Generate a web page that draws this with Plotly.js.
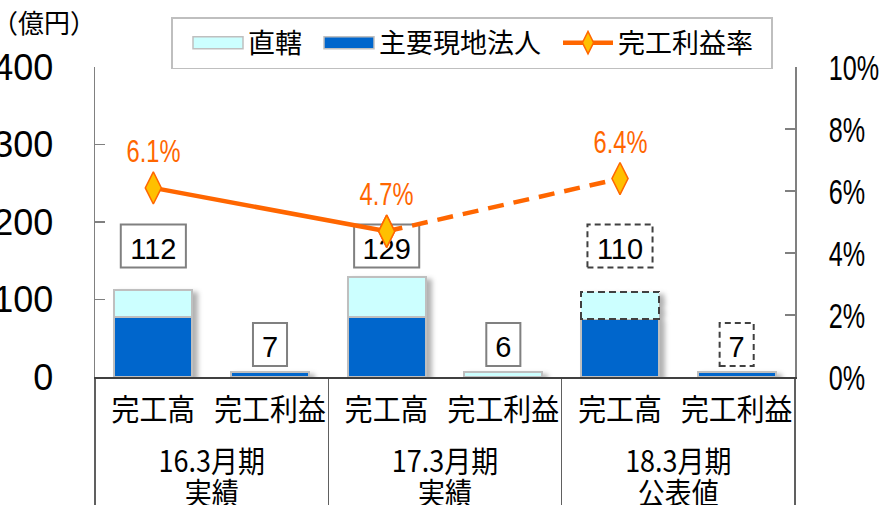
<!DOCTYPE html>
<html><head><meta charset="utf-8">
<script src="https://cdn.plot.ly/plotly-3.0.1.min.js"></script>
<style>html,body{margin:0;padding:0;background:#fff}#chart{width:879px;height:505px}</style>
</head><body><div id="chart"></div>
<script>
// ---- data ----
const periods = ["16.3月期<br>実績", "17.3月期<br>実績", "18.3月期<br>公表値"];
const metrics = ["完工高", "完工利益"];
const salesLocal = [77, 78, 75];      // 主要現地法人
const salesDirect = [35, 51, 35];     // 直轄
const salesTotal = [112, 129, 110];
const profitLocal = [7, 0.5, 7];
const profitDirect = [null, 5.5, null];
const profitTotal = [7, 6, 7];
const marginRate = [0.061, 0.047, 0.064]; // 完工利益率
const forecast = [false, false, true];

// ---- build ----
const outer = [], inner = [], localVals = [], directVals = [], totals = [], isFc = [];
periods.forEach((p, i) => {
  outer.push(p, p); inner.push(metrics[0], metrics[1]);
  localVals.push(salesLocal[i], profitLocal[i]);
  directVals.push(salesDirect[i], profitDirect[i]);
  totals.push(salesTotal[i], profitTotal[i]);
  isFc.push(forecast[i], forecast[i]);
});

const CJK = '"Noto Sans CJK JP", "Noto Sans", sans-serif';
const LAT = '"Liberation Sans", Arial, sans-serif';
const ORANGE = '#FF6600';
const barLine = {color: '#BFBFBF', width: 2};

const traces = [
  {type: 'bar', name: '主要現地法人', x: [outer, inner], y: localVals, width: 0.67,
   marker: {color: '#0066CC', line: barLine}, legendrank: 2, hoverinfo: 'skip'},
  {type: 'bar', name: '直轄', x: [outer, inner], y: directVals, width: 0.67,
   marker: {color: '#CCFFFF', line: barLine}, legendrank: 1, hoverinfo: 'skip'},
  {type: 'scatter', mode: 'lines+markers', name: '完工利益率', yaxis: 'y2',
   x: [periods.slice(0, 2), [metrics[0], metrics[0]]], y: marginRate.slice(0, 2),
   line: {color: ORANGE, width: 4.5},
   marker: {symbol: 'diamond-tall', size: 23, color: '#FFC000', line: {color: ORANGE, width: 1.5}},
   legendrank: 3, hoverinfo: 'skip'},
  {type: 'scatter', mode: 'lines+markers', name: '完工利益率', yaxis: 'y2', showlegend: false,
   x: [periods.slice(1), [metrics[0], metrics[0]]], y: marginRate.slice(1),
   line: {color: ORANGE, width: 4.5, dash: '16px,10px'},
   marker: {symbol: 'diamond-tall', size: 23, color: '#FFC000', line: {color: ORANGE, width: 1.5}},
   hoverinfo: 'skip'}
];

// value boxes drawn as labelled shapes beneath the traces
const shapes = [];
totals.forEach((v, k) => {
  const isSales = k % 2 === 0;
  const half = String(v).length > 1 ? 0.279 : 0.146;
  const yc = isSales ? 0.4226 : 0.105, hh = 0.0694;
  shapes.push({
    type: 'rect', layer: 'below',
    xref: 'x', x0: k - half, x1: k + half,
    yref: 'paper', y0: yc - hh, y1: yc + hh,
    fillcolor: '#fff',
    line: isFc[k] ? {color: '#404040', width: 2, dash: '6px,4px'} : {color: '#808080', width: 2},
    label: {text: String(v), textposition: 'middle center', font: {family: LAT, size: 29, color: '#000'}}
  });
});

const annotations = [];
marginRate.forEach((r, i) => {
  annotations.push({
    x: 2 * i, xref: 'x', y: r, yref: 'y2', yshift: 37, showarrow: false,
    text: (r * 100).toFixed(1) + '%', font: {family: LAT, size: 32, color: ORANGE}, name: 'rate'
  });
});
annotations.push({
  x: -0.15, xref: 'paper', xanchor: 'left', y: 1.148, yref: 'paper', yanchor: 'middle',
  text: '（億円）', showarrow: false, font: {family: CJK, size: 26, color: '#000'}
});

const layout = {
  width: 879, height: 505,
  margin: {l: 95, r: 84, t: 67, b: 128, autoexpand: false},
  paper_bgcolor: '#fff', plot_bgcolor: '#fff',
  barmode: 'stack', showlegend: true,
  legend: {orientation: 'h', x: 0.1086, y: 1.161, xanchor: 'left', yanchor: 'top',
           bgcolor: '#fff', bordercolor: '#BFBFBF', borderwidth: 1.5,
           font: {family: CJK, size: 27, color: '#000'}, itemwidth: 50, traceorder: 'normal'},
  xaxis: {type: 'multicategory', range: [-0.5, 5.5], showline: true, linecolor: '#404040', linewidth: 1.5,
          ticks: '', tickangle: 0, showgrid: false, zeroline: false, showdividers: true,
          dividercolor: '#606060', dividerwidth: 1.5,
          tickfont: {family: CJK, size: 30, color: '#000'}},
  yaxis: {range: [0, 400], dtick: 100, ticks: 'inside', ticklen: 10, tickcolor: '#808080', tickwidth: 1.5,
          showline: true, linecolor: '#808080', linewidth: 1.5, showgrid: false, zeroline: false,
          ticklabelstandoff: 33, tickfont: {family: LAT, size: 36, color: '#000'}},
  yaxis2: {overlaying: 'y', side: 'right', range: [0, 0.1], dtick: 0.02, tickformat: '.0%',
           ticks: 'inside', ticklen: 10, tickcolor: '#808080', tickwidth: 1.5,
           showline: true, linecolor: '#808080', linewidth: 1.5, showgrid: false, zeroline: false,
           ticklabelstandoff: 25, tickfont: {family: LAT, size: 36, color: '#000'}},
  shapes: shapes,
  annotations: annotations
};

function condense(el, s, dy) {
  const x = parseFloat(el.getAttribute('x')) || 0;
  const tr = el.getAttribute('transform') || '';
  el.setAttribute('transform', 'translate(0,' + (dy || 0) + ') ' + tr +
    ' translate(' + x + ',0) scale(' + s + ',1) translate(' + (-x) + ',0)');
}

Plotly.newPlot('chart', traces, layout, {staticPlot: true}).then(gd => {
  document.querySelectorAll('.xtick text').forEach(t => condense(t, 0.93, 6));
  document.querySelectorAll('.xtick2 text').forEach(t => {
    t.querySelectorAll('tspan.line').forEach((ts, i) => { if (i > 0) ts.setAttribute('dy', (i * 1.04) + 'em'); });
    condense(t, 0.9, 12);
  });
  document.querySelectorAll('.y2tick text').forEach(t => condense(t, 0.7));
  document.querySelectorAll('g.annotation').forEach(g => {
    const i = +g.getAttribute('data-index');
    const a = gd.layout.annotations[i];
    if (a && a.name === 'rate') g.querySelectorAll('text').forEach(t => condense(t, 0.74));
  });
  // dashed outline on forecast 直轄 segment
  const barTraces = document.querySelectorAll('.barlayer .trace');
  if (barTraces[1]) {
    barTraces[1].querySelectorAll('g.point').forEach(p => {
      const d = p.__data__;
      if (d && isFc[d.i]) {
        const path = p.querySelector('path');
        if (path) { path.style.strokeDasharray = '7,4'; path.style.stroke = '#404040'; }
      }
    });
  }
  // legend: wide swatches and spacing
  document.querySelectorAll('clipPath[id^="legend"] rect').forEach(r => r.setAttribute('width', 800));
  const barNames = [traces[0].name, traces[1].name];
  const items = Array.from(document.querySelectorAll('.legend g.traces'));
  let targetLeft = 248;
  let lastRight = 0;
  items.forEach(g => {
    const txt = g.querySelector('text.legendtext');
    if (!txt) return;
    if (barNames.indexOf(txt.textContent) >= 0) {
      g.querySelectorAll('.legendpoints path').forEach(p => {
        p.setAttribute('d', 'M25,6H-25V-6H25Z');
        p.style.strokeWidth = '1.5px';
        p.style.stroke = '#BFBFBF';
      });
    }
    const rc = txt.getBoundingClientRect();
    const delta = targetLeft - rc.left;
    const m = /translate\(\s*([-\d.e]+)[ ,]+([-\d.e]+)\s*\)/.exec(g.getAttribute('transform') || '');
    const tx = m ? parseFloat(m[1]) : 0, ty = m ? parseFloat(m[2]) : 0;
    g.setAttribute('transform', 'translate(' + (tx + delta) + ',' + ty + ')');
    lastRight = targetLeft + rc.width;
    targetLeft = lastRight + 77;
  });
  const bg = document.querySelector('.legend rect.bg');
  if (bg) {
    const bl = bg.getBoundingClientRect().left;
    bg.setAttribute('width', (lastRight + 19 - bl));
  }
  // bar shadow
  const NS = 'http://www.w3.org/2000/svg';
  const svg = document.querySelector('#chart .main-svg');
  let defs = svg.querySelector('defs');
  const f = document.createElementNS(NS, 'filter');
  f.setAttribute('id', 'bshadow'); f.setAttribute('x', '-20%'); f.setAttribute('y', '-20%');
  f.setAttribute('width', '150%'); f.setAttribute('height', '150%');
  const ds = document.createElementNS(NS, 'feDropShadow');
  ds.setAttribute('dx', '5'); ds.setAttribute('dy', '3'); ds.setAttribute('stdDeviation', '2.5');
  ds.setAttribute('flood-color', '#000'); ds.setAttribute('flood-opacity', '0.3');
  f.appendChild(ds); defs.appendChild(f);
  document.querySelectorAll('.barlayer').forEach(b => b.setAttribute('filter', 'url(#bshadow)'));
});
</script>
</body></html>
